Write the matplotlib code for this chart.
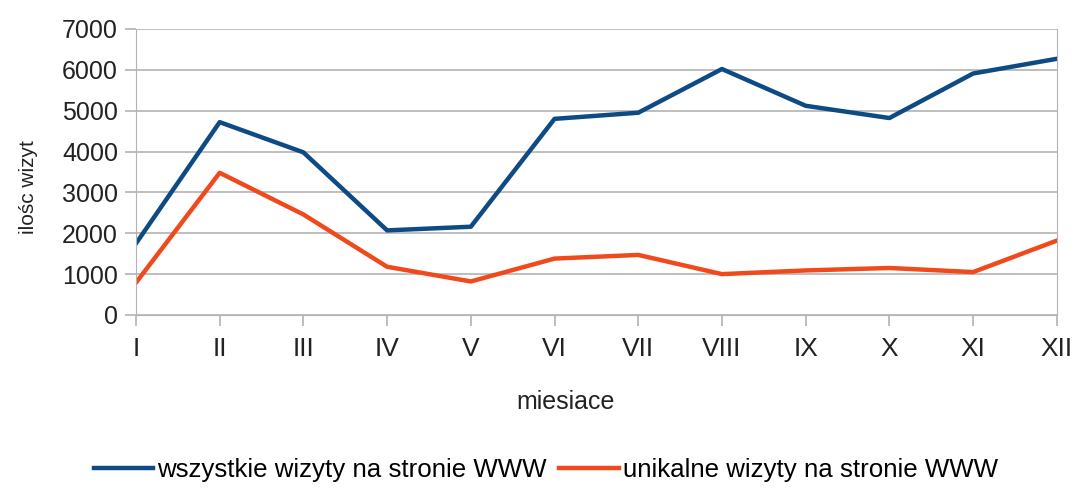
import matplotlib.pyplot as plt

months = ["I", "II", "III", "IV", "V", "VI", "VII", "VIII", "IX", "X", "XI", "XII"]
all_visits = [1750, 4720, 3980, 2070, 2160, 4800, 4950, 6020, 5120, 4820, 5910, 6270]
unique_visits = [790, 3480, 2460, 1180, 820, 1380, 1470, 1000, 1090, 1150, 1050, 1820]
y_ticks = [0, 1000, 2000, 3000, 4000, 5000, 6000, 7000]

plt.rcParams['font.family'] = ['Liberation Sans', 'DejaVu Sans']

fig = plt.figure(figsize=(10.74, 4.91), dpi=100)
ax = fig.add_axes([0.1266, 0.3585, 0.8574, 0.5825])

x = range(len(months))
ax.plot(x, all_visits, color='#0e4a84', lw=3.2, label='wszystkie wizyty na stronie WWW')
ax.plot(x, unique_visits, color='#f04a1c', lw=3.2, label='unikalne wizyty na stronie WWW')

ax.set_xlim(0, len(months) - 1)
ax.set_ylim(0, 7000)
ax.set_xticks(list(x))
ax.set_xticklabels(months)
ax.set_yticks(y_ticks)

# grid + axis styling
ax.yaxis.grid(True, color='#b3b3b3', lw=1.2)
ax.set_axisbelow(True)
for side in ['left', 'right', 'bottom']:
    ax.spines[side].set_color('#b3b3b3')
ax.spines['top'].set_visible(False)
ax.tick_params(axis='both', colors='#b3b3b3', labelcolor='#222222',
               length=8, width=1.2)
ax.tick_params(axis='x', pad=8, labelsize=19)
ax.tick_params(axis='y', pad=5, labelsize=18)

ax.set_xlabel('miesiace', fontsize=18, color='#222222')
ax.xaxis.label.set_va('center')
ax.xaxis.set_label_coords(0.467, -0.304)
ax.set_ylabel('ilośc wizyt', fontsize=15, color='#222222')
ax.yaxis.label.set_va('center')
ax.yaxis.set_label_coords(-0.117, 0.448)

fig.legend(loc='center', bbox_to_anchor=(0.508, 0.043), ncol=2, frameon=False,
           fontsize=18.6, handlelength=2.3, handletextpad=0.15, columnspacing=0.5)

fig.savefig('out.png', dpi=100, facecolor='white')
